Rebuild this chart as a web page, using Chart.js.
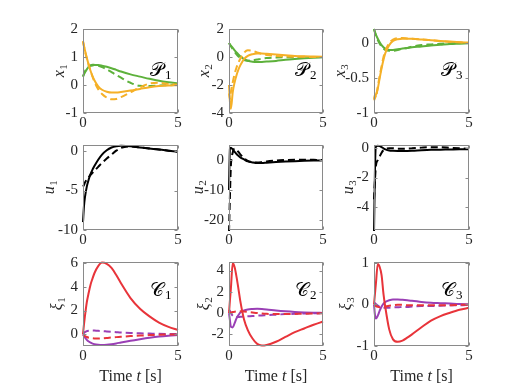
<!DOCTYPE html>
<html>
<head>
<meta charset="utf-8">
<script src="https://cdn.jsdelivr.net/npm/chart.js@4.4.1/dist/chart.umd.min.js"></script>
<style>
  html, body { margin: 0; padding: 0; background: #fff; }
  #wrap { position: relative; width: 519px; height: 389px; }
  #wrap canvas { position: absolute; left: 0; top: 0; }
</style>
</head>
<body>
<div id="wrap"></div>
<script>
// time samples shared by every curve [s]
const T = [0, 0.05, 0.1, 0.2, 0.3, 0.4, 0.5, 0.6, 0.8, 1, 1.25, 1.5, 1.75, 2, 2.5, 3, 3.5, 4, 4.5, 5];

// row 1 : states
const x1Yellow     = [1.57, 1.40, 1.25, 0.97, 0.72, 0.50, 0.32, 0.17, -0.05, -0.17, -0.24, -0.27, -0.27, -0.25, -0.20, -0.14, -0.08, -0.04, -0.02, -0.01];
const x1YellowDash = [1.55, 1.38, 1.22, 0.95, 0.72, 0.50, 0.30, 0.12, -0.15, -0.32, -0.45, -0.51, -0.50, -0.43, -0.26, -0.08, 0.05, 0.08, 0.04, 0.01];
const x1Green      = [0.30, 0.38, 0.45, 0.56, 0.64, 0.68, 0.70, 0.71, 0.71, 0.69, 0.65, 0.60, 0.54, 0.48, 0.38, 0.30, 0.22, 0.15, 0.10, 0.06];
const x1GreenDash  = [0.30, 0.40, 0.48, 0.60, 0.67, 0.71, 0.72, 0.72, 0.69, 0.64, 0.56, 0.46, 0.36, 0.26, 0.08, -0.03, -0.04, -0.02, -0.01, 0];

const x2Yellow     = [-2.0, -3.2, -3.7, -2.5, -1.8, -1.3, -0.9, -0.6, -0.15, 0.08, 0.20, 0.25, 0.25, 0.23, 0.18, 0.13, 0.08, 0.05, 0.03, 0.01];
const x2YellowDash = [-2.6, -3.0, -2.5, -1.8, -1.2, -0.75, -0.4, -0.12, 0.30, 0.48, 0.45, 0.33, 0.22, 0.15, 0.08, 0.04, 0.02, 0.01, 0, 0];
const x2Green      = [1.0, 0.90, 0.81, 0.65, 0.48, 0.32, 0.18, 0.05, -0.15, -0.27, -0.34, -0.36, -0.35, -0.33, -0.28, -0.20, -0.14, -0.09, -0.05, -0.02];
const x2GreenDash  = [1.0, 0.88, 0.76, 0.55, 0.36, 0.18, 0.04, -0.08, -0.22, -0.26, -0.24, -0.18, -0.12, -0.08, -0.04, -0.02, -0.01, 0, 0, 0];

const x3Yellow     = [-0.82, -0.79, -0.74, -0.65, -0.50, -0.36, -0.24, -0.14, -0.03, 0.03, 0.055, 0.06, 0.06, 0.06, 0.05, 0.04, 0.03, 0.02, 0.01, 0.005];
const x3YellowDash = [-0.80, -0.74, -0.78, -0.62, -0.47, -0.33, -0.20, -0.11, 0.0, 0.05, 0.07, 0.07, 0.065, 0.06, 0.05, 0.04, 0.025, 0.015, 0.01, 0];
const x3Green      = [0.20, 0.16, 0.12, 0.06, 0.01, -0.03, -0.06, -0.08, -0.10, -0.10, -0.09, -0.08, -0.07, -0.06, -0.05, -0.035, -0.025, -0.015, -0.01, -0.005];
const x3GreenDash  = [0.20, 0.15, 0.11, 0.04, -0.01, -0.05, -0.08, -0.10, -0.11, -0.11, -0.10, -0.08, -0.07, -0.05, -0.03, -0.02, -0.01, -0.005, 0, 0];

// row 2 : inputs
const u1     = [-9.0, -7.0, -5.9, -4.5, -3.6, -2.9, -2.35, -1.9, -1.1, -0.45, 0.1, 0.45, 0.62, 0.68, 0.62, 0.45, 0.32, 0.2, 0.05, -0.1];
const u1Dash = [-4.5, -4.3, -4.0, -3.6, -3.3, -3.0, -2.75, -2.5, -2.0, -1.5, -0.95, -0.45, 0.05, 0.4, 0.6, 0.45, 0.32, 0.2, 0.05, -0.1];
const u2     = [-10, 3.8, 4.1, 3.5, 2.7, 2.0, 1.4, 0.9, 0.2, -0.45, -0.8, -1.0, -1.0, -0.9, -0.7, -0.52, -0.38, -0.27, -0.18, -0.1];
const u2Dash = [-24, -12, -2, 2.5, 3.8, 3.5, 2.7, 1.9, 0.6, -0.3, -0.75, -0.85, -0.7, -0.45, -0.15, 0.0, 0.1, 0.1, 0.05, 0.0];
const u3     = [-5.8, -1.5, 0.1, 0.18, 0.15, 0.08, 0.0, -0.07, -0.15, -0.17, -0.18, -0.18, -0.18, -0.17, -0.13, -0.1, -0.09, -0.08, -0.07, -0.07];
const u3Dash = [-3.5, -2.2, -1.2, -0.8, -0.55, -0.3, -0.12, -0.04, 0.0, 0.0, -0.02, -0.03, -0.02, 0.0, 0.05, 0.08, 0.08, 0.04, 0.0, -0.03];

// row 3 : controller states
const xi1Red        = [0, 0.8, 1.5, 2.7, 3.5, 4.2, 4.7, 5.15, 5.75, 6.05, 5.95, 5.6, 5.0, 4.3, 3.05, 2.15, 1.5, 0.98, 0.62, 0.35];
const xi1RedDash    = [0, -0.08, -0.15, -0.24, -0.3, -0.33, -0.35, -0.36, -0.36, -0.35, -0.32, -0.28, -0.25, -0.22, -0.16, -0.12, -0.08, -0.05, -0.03, -0.02];
const xi1Purple     = [0, -0.15, -0.28, -0.48, -0.62, -0.72, -0.8, -0.85, -0.9, -0.92, -0.9, -0.85, -0.78, -0.7, -0.55, -0.42, -0.3, -0.2, -0.13, -0.08];
const xi1PurpleDash = [0, 0.1, 0.17, 0.26, 0.3, 0.32, 0.32, 0.31, 0.28, 0.26, 0.23, 0.2, 0.17, 0.14, 0.1, 0.07, 0.05, 0.03, 0.02, 0.01];

const xi2Red        = [0, 1.2, 2.3, 4.7, 4.3, 3.4, 2.3, 1.15, -0.6, -1.6, -2.4, -2.9, -3.05, -3.0, -2.7, -2.25, -1.8, -1.45, -1.1, -0.8];
const xi2RedDash    = [0, 0.02, 0.05, 0.1, 0.13, 0.15, 0.16, 0.16, 0.14, 0.1, 0.05, 0.0, -0.04, -0.07, -0.1, -0.1, -0.08, -0.06, -0.04, -0.02];
const xi2Purple     = [0, -0.7, -1.3, -1.35, -0.95, -0.5, -0.2, 0.05, 0.25, 0.34, 0.38, 0.4, 0.38, 0.34, 0.24, 0.16, 0.1, 0.06, 0.03, 0.01];
const xi2PurpleDash = [0.3, 0.2, 0.0, -0.25, -0.35, -0.38, -0.38, -0.36, -0.32, -0.3, -0.28, -0.25, -0.22, -0.2, -0.15, -0.1, -0.07, -0.04, -0.02, -0.01];

const xi3Red        = [0, 0.25, 0.5, 0.97, 0.9, 0.7, 0.25, -0.08, -0.6, -0.84, -0.9, -0.87, -0.8, -0.72, -0.55, -0.39, -0.28, -0.2, -0.13, -0.08];
const xi3RedDash    = [0, -0.02, -0.04, -0.06, -0.07, -0.07, -0.06, -0.05, -0.03, -0.02, -0.01, -0.01, -0.02, -0.02, -0.02, -0.02, -0.02, -0.02, -0.01, -0.01];
const xi3Purple     = [0, -0.25, -0.34, -0.27, -0.15, -0.05, 0.02, 0.06, 0.1, 0.12, 0.12, 0.11, 0.1, 0.09, 0.06, 0.04, 0.03, 0.02, 0.01, 0.005];
const xi3PurpleDash = [0.04, 0.03, 0.01, -0.03, -0.06, -0.07, -0.08, -0.08, -0.08, -0.07, -0.07, -0.06, -0.06, -0.05, -0.04, -0.04, -0.03, -0.02, -0.02, -0.01];

// tick labels
const timeTicks = [0, 5];
const x1Ticks = [-1, 0, 1, 2];
const x2Ticks = [-4, -2, 0, 2];
const x3Ticks = [-1, -0.5, 0];
const u1Ticks = [-10, -5, 0];
const u2Ticks = [-20, -10, 0];
const u3Ticks = [-4, -2, 0];
const xi1Ticks = [0, 2, 4, 6];
const xi2Ticks = [-2, 0, 2, 4];
const xi3Ticks = [-1, 0, 1];

const YELLOW = '#F5B027', GREEN = '#5DB13B', RED = '#E8343A', PURPLE = '#9A3FB5', BLACK = '#000000';
const AXIS = '#8a8a8a';
const SERIF = '"Liberation Serif", "DejaVu Serif", serif';

// plot boxes in page pixels
const COLS = [[83, 178], [229, 323], [374, 469]];
const ROWS = [[29, 113], [145, 230], [262, 346]];

const panels = [
  { row: 0, col: 0, sym: 'x', idx: '1', labOff: 23, min: -1, max: 2, ticks: x1Ticks, tag: '\u{1D4AB}',
    lines: [[x1Yellow, YELLOW, false], [x1YellowDash, YELLOW, true], [x1Green, GREEN, false], [x1GreenDash, GREEN, true]] },
  { row: 0, col: 1, sym: 'x', idx: '2', labOff: 24, min: -4, max: 2, ticks: x2Ticks, tag: '\u{1D4AB}',
    lines: [[x2Yellow, YELLOW, false], [x2YellowDash, YELLOW, true], [x2Green, GREEN, false], [x2GreenDash, GREEN, true]] },
  { row: 0, col: 2, sym: 'x', idx: '3', labOff: 33, min: -1, max: 0.2, ticks: x3Ticks, tag: '\u{1D4AB}',
    lines: [[x3Yellow, YELLOW, false], [x3YellowDash, YELLOW, true], [x3Green, GREEN, false], [x3GreenDash, GREEN, true]] },
  { row: 1, col: 0, sym: 'u', idx: '1', labOff: 33, min: -10, max: 0.77, ticks: u1Ticks,
    lines: [[u1, BLACK, false], [u1Dash, BLACK, true]] },
  { row: 1, col: 1, sym: 'u', idx: '2', labOff: 30, min: -23.3, max: 5, ticks: u2Ticks,
    lines: [[u2, BLACK, false], [u2Dash, BLACK, true]] },
  { row: 1, col: 2, sym: 'u', idx: '3', labOff: 25, min: -5.6, max: 0.23, ticks: u3Ticks,
    lines: [[u3, BLACK, false], [u3Dash, BLACK, true]] },
  { row: 2, col: 0, sym: '\u03BE', idx: '1', labOff: 25, min: -1, max: 6.1, ticks: xi1Ticks, tag: '\u{1D49E}',
    lines: [[xi1Red, RED, false], [xi1RedDash, RED, true], [xi1Purple, PURPLE, false], [xi1PurpleDash, PURPLE, true]] },
  { row: 2, col: 1, sym: '\u03BE', idx: '2', labOff: 24, min: -3.1, max: 4.8, ticks: xi2Ticks, tag: '\u{1D49E}',
    lines: [[xi2Red, RED, false], [xi2RedDash, RED, true], [xi2Purple, PURPLE, false], [xi2PurpleDash, PURPLE, true]] },
  { row: 2, col: 2, sym: '\u03BE', idx: '3', labOff: 27, min: -1, max: 1.02, ticks: xi3Ticks, tag: '\u{1D49E}',
    lines: [[xi3Red, RED, false], [xi3RedDash, RED, true], [xi3Purple, PURPLE, false], [xi3PurpleDash, PURPLE, true]] }
];

const wrap = document.getElementById('wrap');
const YW = 40, XH = 22;

panels.forEach(p => {
  const canvas = document.createElement('canvas');
  canvas.width = 519;
  canvas.height = 389;
  wrap.appendChild(canvas);

  const [left, right] = COLS[p.col];
  const [top, bottom] = ROWS[p.row];

  // frame, inward ticks and the math-style labels
  const decor = {
    id: 'decor',
    afterDraw(chart) {
      const { ctx, chartArea: a, scales } = chart;
      const L = Math.round(a.left) + 0.5, R = Math.round(a.right) - 0.5;
      const Tp = Math.round(a.top) + 0.5, B = Math.round(a.bottom) - 0.5;
      ctx.save();
      ctx.strokeStyle = AXIS;
      ctx.lineWidth = 1;
      ctx.strokeRect(L, Tp, R - L, B - Tp);
      ctx.beginPath();
      p.ticks.forEach(v => {
        const py = Math.round(scales.y.getPixelForValue(v)) + 0.5;
        ctx.moveTo(L, py); ctx.lineTo(L + 3, py);
        ctx.moveTo(R, py); ctx.lineTo(R - 3, py);
      });
      timeTicks.forEach(v => {
        const px = Math.round(scales.x.getPixelForValue(v)) + 0.5;
        ctx.moveTo(px, B); ctx.lineTo(px, B - 3);
        ctx.moveTo(px, Tp); ctx.lineTo(px, Tp + 3);
      });
      ctx.stroke();

      ctx.fillStyle = '#262626';
      ctx.textBaseline = 'alphabetic';
      ctx.textAlign = 'left';

      // y label, rotated
      ctx.save();
      ctx.translate(a.left - p.labOff, (a.top + a.bottom) / 2);
      ctx.rotate(-Math.PI / 2);
      ctx.font = 'italic 16px ' + SERIF;
      const wb = ctx.measureText(p.sym).width;
      ctx.font = '11px ' + SERIF;
      const ws = ctx.measureText(p.idx).width;
      const x0 = -(wb + ws) / 2;
      ctx.font = 'italic 16px ' + SERIF;
      ctx.fillText(p.sym, x0, 4);
      ctx.font = '11px ' + SERIF;
      ctx.fillText(p.idx, x0 + wb + 0.5, 7);
      ctx.restore();

      // subsystem tag
      if (p.tag) {
        const tx = a.right - 28;
        const ty = p.row === 0 ? a.top + 47 : a.top + 34;
        ctx.font = '19px ' + SERIF;
        ctx.fillStyle = '#000';
        ctx.fillText(p.tag, tx, ty);
        const w = ctx.measureText(p.tag).width;
        ctx.font = '13px ' + SERIF;
        ctx.fillText(p.idx, tx + w + 1, ty + 3);
      }

      // time axis label on bottom row
      if (p.row === 2) {
        const parts = [['Time ', ''], ['t', 'italic '], [' [s]', '']];
        ctx.fillStyle = '#262626';
        let total = 0;
        parts.forEach(([s, st]) => { ctx.font = st + '16px ' + SERIF; total += ctx.measureText(s).width; });
        let cx = (a.left + a.right) / 2 - total / 2;
        parts.forEach(([s, st]) => {
          ctx.font = st + '16px ' + SERIF;
          ctx.fillText(s, cx, 381);
          cx += ctx.measureText(s).width;
        });
      }
      ctx.restore();
    }
  };

  new Chart(canvas, {
    type: 'line',
    data: {
      datasets: p.lines.map(([vals, color, dashed]) => ({
        data: vals.map((v, i) => ({ x: T[i], y: v })),
        borderColor: color,
        borderWidth: 2,
        borderDash: dashed ? [7, 4] : [],
        pointRadius: 0,
        fill: false,
        cubicInterpolationMode: 'monotone',
        clip: 1
      }))
    },
    options: {
      responsive: false,
      animation: false,
      devicePixelRatio: 1,
      events: [],
      layout: { padding: { left: left - YW, right: 519 - right, top: top, bottom: 389 - bottom - XH } },
      plugins: { legend: { display: false }, tooltip: { enabled: false } },
      scales: {
        x: {
          type: 'linear', min: 0, max: 5,
          grid: { display: false, drawTicks: false },
          border: { display: false },
          afterBuildTicks: s => { s.ticks = timeTicks.map(v => ({ value: v })); },
          afterFit: s => { s.height = XH; },
          ticks: { font: { family: SERIF, size: 15 }, color: '#262626', padding: 1, maxRotation: 0, autoSkip: false, callback: v => String(v) }
        },
        y: {
          type: 'linear', min: p.min, max: p.max,
          grid: { display: false, drawTicks: false },
          border: { display: false },
          afterBuildTicks: s => { s.ticks = p.ticks.map(v => ({ value: v })); },
          afterFit: s => { s.width = YW; },
          ticks: { font: { family: SERIF, size: 15 }, color: '#262626', padding: 5, autoSkip: false, callback: v => String(v) }
        }
      }
    },
    plugins: [decor]
  });
});
</script>
</body>
</html>
